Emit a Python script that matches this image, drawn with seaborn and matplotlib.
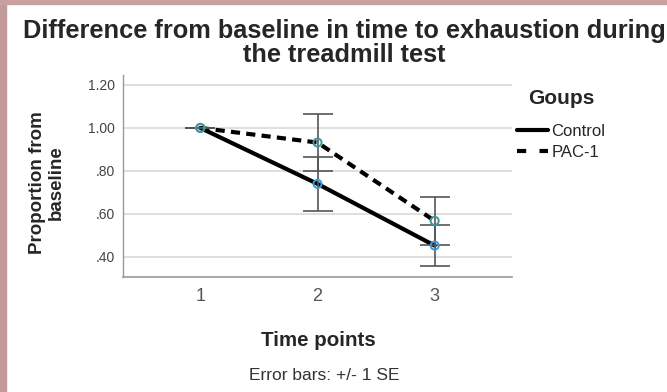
import numpy as np
import pandas as pd
import matplotlib
matplotlib.use("Agg")
import matplotlib.pyplot as plt
import seaborn as sns
from matplotlib.lines import Line2D
from matplotlib.patches import Rectangle

# values
time_points = [1, 2, 3]
groups = ["Control", "PAC-1"]
control_mean = [1.00, 0.740, 0.453]
control_se = [0.0, 0.126, 0.097]
pac_mean = [1.00, 0.932, 0.568]
pac_se = [0.0, 0.132, 0.111]
y_ticks = [0.40, 0.60, 0.80, 1.00, 1.20]
y_tick_labels = [".40", ".60", ".80", "1.00", "1.20"]

df = pd.DataFrame({
    "Time": time_points * 2,
    "Mean": control_mean + pac_mean,
    "SE": control_se + pac_se,
    "Group": [groups[0]] * 3 + [groups[1]] * 3,
})

sns.set_theme(style="white")
plt.rcParams["font.family"] = ["Liberation Sans", "DejaVu Sans"]

fig = plt.figure(figsize=(6.67, 3.92), dpi=100)
ax = fig.add_axes([123 / 667, 1 - 277 / 392, (512 - 123) / 667, (277 - 75) / 392])

# gridlines behind everything
for t in y_ticks:
    ax.axhline(t, color="#d6d6d6", lw=1.1, zorder=0)

sns.lineplot(data=df, x="Time", y="Mean", style="Group", color="black",
             dashes={"Control": "", "PAC-1": (2.2, 1.5)}, lw=3.0,
             errorbar=None, legend=False, ax=ax, zorder=2)

marker_colors = {"Control": "#3a9ad9", "PAC-1": "#3a9a9a"}
for g in groups:
    sub = df[df["Group"] == g]
    ax.errorbar(sub["Time"], sub["Mean"], yerr=sub["SE"], fmt="none",
                ecolor="#555555", elinewidth=1.2, capsize=10.5, capthick=1.2, zorder=3)
    ax.scatter(sub["Time"], sub["Mean"], s=34, facecolors="none",
               edgecolors=marker_colors[g], linewidths=1.4, zorder=4)

ax.set_xlim(0.34, 3.66)
ax.set_ylim(0.307, 1.246)
ax.set_xticks(time_points)
ax.set_xticklabels([str(t) for t in time_points], fontsize=13, color="#555555")
ax.set_yticks(y_ticks)
ax.set_yticklabels(y_tick_labels, fontsize=10, color="#444444")
ax.tick_params(axis="both", length=0, pad=6)
ax.tick_params(axis="x", pad=8)
ax.set_xlabel("")
ax.set_ylabel("")
for s in ["top", "right"]:
    ax.spines[s].set_visible(False)
ax.spines["left"].set_color("#999999")
ax.spines["bottom"].set_color("#999999")
ax.spines["left"].set_linewidth(1.0)
ax.spines["bottom"].set_linewidth(1.2)

# texts
fig.text(344 / 667, 1 - 43 / 392, "Difference from baseline in time to exhaustion during\nthe treadmill test",
         ha="center", va="center", fontsize=18.3, fontweight="bold", linespacing=1.02)
fig.text(47 / 667, 1 - 183 / 392, "Proportion from\nbaseline", rotation=90,
         ha="center", va="center", fontsize=13.5, fontweight="bold", linespacing=1.2)
fig.text(318 / 667, 1 - 341 / 392, "Time points", ha="center", va="center",
         fontsize=14.8, fontweight="bold")
fig.text(324 / 667, 1 - 375 / 392, "Error bars: +/- 1 SE", ha="center", va="center",
         fontsize=12.5, color="#333333")

# legend: title drawn separately to get the wider gap seen in the reference
fig.text(561 / 667, 1 - 98 / 392, "Goups", ha="center", va="center",
         fontsize=15, fontweight="bold")
handles = [Line2D([], [], color="black", lw=3.0),
           Line2D([], [], color="black", lw=3.0, dashes=(2.2, 3.2))]
fig.legend(handles, groups, loc="upper left", bbox_to_anchor=(502 / 667, 1 - 109 / 392),
           frameon=False, fontsize=12, handlelength=1.85,
           handletextpad=0.2, labelspacing=0.35)

# pink frame on left and top edges
fig.patches.append(Rectangle((0, 0), 6 / 667, 1, transform=fig.transFigure,
                             color="#c29a9a", zorder=10))
fig.patches.append(Rectangle((0, 1 - 4 / 392), 1, 4 / 392, transform=fig.transFigure,
                             color="#c9a0a0", zorder=10))

fig.savefig("out.png", dpi=100)
